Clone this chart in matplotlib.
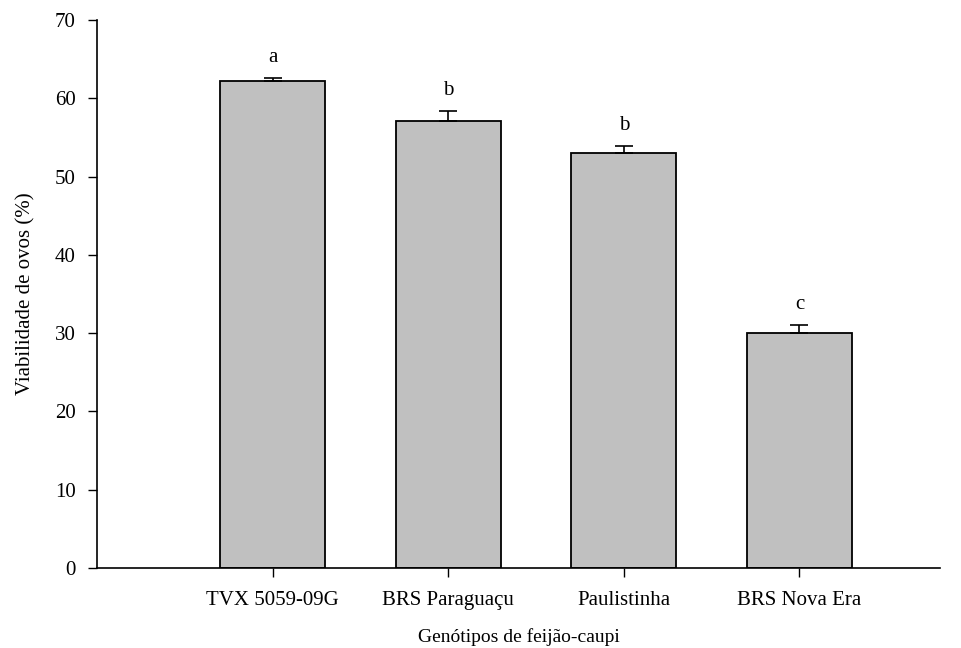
import matplotlib
matplotlib.use('Agg')
import matplotlib.pyplot as plt
import numpy as np

plt.rcParams['font.family'] = ['Liberation Serif', 'DejaVu Serif']

genotipos = ["TVX 5059-09G", "BRS Paraguaçu", "Paulistinha", "BRS Nova Era"]
viabilidade = [62.2, 57.1, 53.0, 30.0]
erro = [0.45, 1.25, 0.95, 1.1]
letras = ["a", "b", "b", "c"]

fs = 15

fig = plt.figure(figsize=(9.61, 6.48), dpi=100)
ax = fig.add_axes([0.101, 0.1235, 0.877, 0.8455])

x = np.arange(1, len(genotipos) + 1)
ax.bar(x, viabilidade, width=0.6, color='#c0c0c0', edgecolor='black', linewidth=1.3, zorder=2)
ax.errorbar(x, viabilidade, yerr=[np.zeros(len(erro)), erro], fmt='none',
            ecolor='black', elinewidth=1.2, capsize=6.5, capthick=1.2, zorder=3)

for xi, v, e, l in zip(x, viabilidade, erro, letras):
    ax.text(xi, v + e + 1.4, l, ha='center', va='bottom', fontsize=fs)

ax.set_xlim(0, 4.8)
ax.set_ylim(0, 70)
ax.set_yticks(range(0, 71, 10))
ax.set_xticks(x)
ax.set_xticklabels(genotipos)
ax.tick_params(direction='out', length=6.5, width=1, labelsize=fs, pad=9)
ax.tick_params(axis='x', pad=10)

ax.spines['top'].set_visible(False)
ax.spines['right'].set_visible(False)
for s in ['left', 'bottom']:
    ax.spines[s].set_linewidth(1.2)

ax.set_ylabel("Viabilidade de ovos (%)", fontsize=fs, labelpad=14)
ax.set_xlabel("Genótipos de feijão-caupi", fontsize=14, labelpad=13)

fig.savefig("out.png", dpi=100)
